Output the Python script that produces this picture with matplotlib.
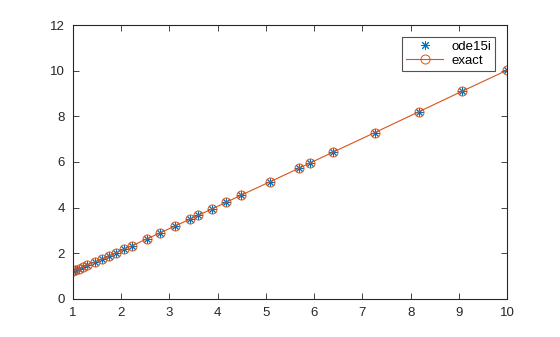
import numpy as np
import matplotlib
matplotlib.use("Agg")
import matplotlib.pyplot as plt

# values
t = [1.0, 1.05, 1.12, 1.2, 1.3, 1.45, 1.6, 1.75, 1.9, 2.06, 2.22, 2.53, 2.8,
     3.12, 3.43, 3.59, 3.88, 4.17, 4.48, 5.09, 5.69, 5.91, 6.39, 7.26, 8.18,
     9.07, 10.0]
y_ode = [1.22, 1.27, 1.33, 1.40, 1.49, 1.61, 1.75, 1.89, 2.03, 2.18, 2.33,
         2.63, 2.89, 3.20, 3.50, 3.66, 3.94, 4.23, 4.54, 5.14, 5.73, 5.95,
         6.43, 7.29, 8.21, 9.10, 10.02]
y_exact = [1.22, 1.27, 1.33, 1.40, 1.49, 1.61, 1.75, 1.89, 2.03, 2.18, 2.33,
           2.63, 2.89, 3.20, 3.50, 3.66, 3.94, 4.23, 4.54, 5.14, 5.73, 5.95,
           6.43, 7.29, 8.21, 9.10, 10.02]
xticks = [1, 2, 3, 4, 5, 6, 7, 8, 9, 10]
yticks = [0, 2, 4, 6, 8, 10, 12]

plt.rcParams['font.family'] = ['Liberation Sans', 'DejaVu Sans']

fig = plt.figure(figsize=(5.6, 3.37), dpi=100)
ax = fig.add_axes([0.1304, 0.1128, 0.775, 0.813])

ax.plot(t, y_ode, marker=(8, 2, 0), color='#0072BD', markersize=6.5,
        markeredgewidth=0.7, label='ode15i', linestyle='none')
ax.plot(t, y_exact, '-o', color='#D95319', markersize=6.5, markeredgewidth=0.7,
        markerfacecolor='none', linewidth=0.8, label='exact')

ax.set_xlim(1, 10)
ax.set_ylim(0, 12)
ax.set_xticks(xticks)
ax.set_yticks(yticks)
ax.tick_params(direction='in', top=True, right=True, length=4, width=0.6,
               labelsize=9.5, colors='#262626', pad=6)
for s in ax.spines.values():
    s.set_linewidth(0.8)
    s.set_color('#262626')

leg = ax.legend(loc='upper right', fontsize=9.5, frameon=True, fancybox=False,
                edgecolor='#262626', borderpad=0.3, handlelength=2.8,
                handletextpad=0.6, labelspacing=0.1, borderaxespad=0.9)
leg.get_frame().set_linewidth(0.8)

fig.savefig('out.png', dpi=100)
